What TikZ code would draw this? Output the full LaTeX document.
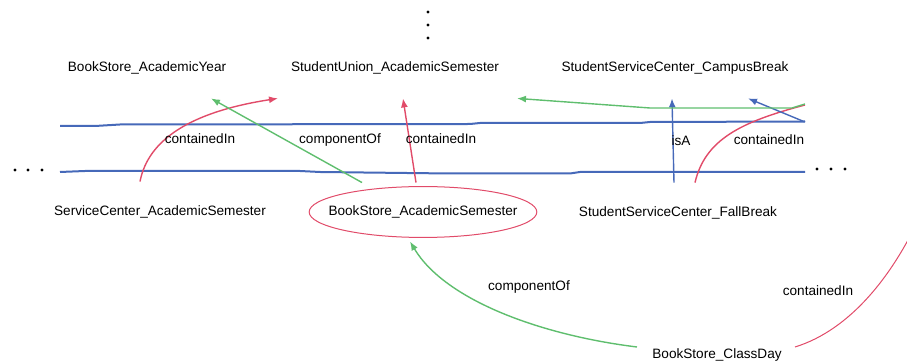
\documentclass[tikz,border=0pt]{standalone}
\usepackage{fontspec}
\setmainfont{Liberation Sans}
\usetikzlibrary{arrows.meta, shapes.geometric, calc}
\definecolor{linkblue}{RGB}{70,105,185}
\definecolor{linkred}{RGB}{225,75,105}
\definecolor{linkgreen}{RGB}{95,190,110}

\begin{document}
\begin{tikzpicture}[
      x=0.5pt, y=-0.5pt,
      >={Latex[length=4.5pt, width=3.5pt]},
      every node/.append style={font=\fontsize{6.8}{8}\selectfont,
                                text height=5pt, text depth=1.5pt},
      cls/.style={rectangle, inner sep=1.5pt, minimum height=30pt},
      sel/.style={ellipse, draw=linkred, line width=0.5pt,
                  inner xsep=-7pt, inner ysep=5.75pt, outer sep=2pt},
      lbl/.style={inner sep=1pt},
      rel/.style={line width=0.7pt},
      layer/.style={linkblue, line width=1pt},
    ]
      \useasboundingbox (0,0) rectangle (907,363);
      \clip (0,0) rectangle (907,363);
      % elided parts
      \foreach \y in {12,25,38} \fill (428,\y) circle (0.8pt);
      \foreach \x in {15,28,42} \fill (\x,170) circle (0.8pt);
      \foreach \x in {817,831,845} \fill (\x,169) circle (0.8pt);
      % layer
      \draw[layer] (60,126) -- (95,126) -- (120,124.5) -- (470,124) -- (480,123)
                   -- (640,123) -- (650,122) -- (805,121.5);
      \draw[layer] (60,172) -- (85,171) -- (300,171) -- (320,172) -- (450,173.5)
                   -- (570,173.5) -- (580,172) -- (805,172);
      % classes
      \node[cls] (BSAY) at (147,68) {BookStore\_AcademicYear};
      \node[cls] (SUAS) at (395,68) {StudentUnion\_AcademicSemester};
      \node[cls] (SSCB) at (675,68) {StudentServiceCenter\_CampusBreak};
      \node[cls] (SCAS) at (160,212) {ServiceCenter\_AcademicSemester};
      \node[sel] (BSAS) at (423,212) {BookStore\_AcademicSemester};
      \node[cls] (SSFB) at (678,213) {StudentServiceCenter\_FallBreak};
      \node[cls] (BSCD) at (717,355) {BookStore\_ClassDay};
      \coordinate (gR) at (805,104);
      \coordinate (bR) at (805,122);
      \coordinate (rR) at (805,105);
      \coordinate (oR) at (925,205);
      % relations
      \draw[rel, linkred, ->] (SCAS.north -| 140,0) .. controls (148,140) and (190,112) .. (SUAS.south -| 278,0);
      \draw[rel, linkgreen, ->] (BSAS.north -| 362,0) -- (BSAY.south -| 211,0);
      \draw[rel, linkred, ->] (BSAS.north -| 416,0) -- (SUAS.south -| 403,0);
      \draw[rel, linkblue, ->] (SSFB.north -| 674,0) -- (SSCB.south -| 672,0);
      \draw[rel, linkred] (SSFB.north -| 695,0) .. controls (705,140) and (740,122) .. (rR);
      \draw[rel, linkblue, ->] (bR) -- (SSCB.south -| 748,0);
      \draw[rel, linkgreen, ->] (gR) -- (792,108) -- (650,108) -- (SUAS.south -| 517,0);
      \draw[rel, linkgreen, ->] ($(BSCD.west)+(-12,-8)$) .. controls (540,335) and (445,300) .. (BSAS.south -| 410,0);
      \draw[line width=0.5pt, linkred] ($(BSCD.east)+(10,-8)$) .. controls (850,330) and (895,275) .. (oR);
      % relation names
      \node[lbl] (lblA) at (200,140) {containedIn};
      \node[lbl] (lblB) at (340,140) {componentOf};
      \node[lbl] (lblC) at (441,140) {containedIn};
      \node[lbl] (lblD) at (681,142) {isA};
      \node[lbl] (lblE) at (769,141) {containedIn};
      \node[lbl] (lblF) at (529,287) {componentOf};
      \node[lbl] (lblG) at (818,292) {containedIn};
    \end{tikzpicture}
\end{document}
